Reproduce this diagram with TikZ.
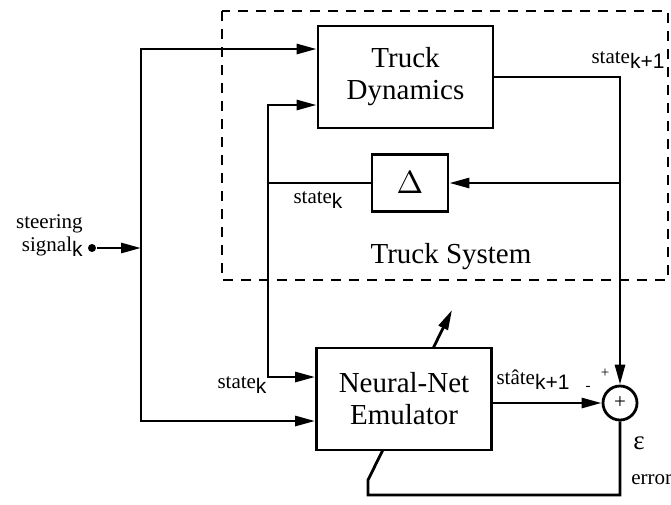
\documentclass[tikz,border=0pt]{standalone}
\usepackage{graphicx}
\usepackage{fontspec}
\setmainfont{Liberation Serif}
\newfontfamily\subfont{Liberation Sans}
\usetikzlibrary{arrows.meta}
\newcommand{\sk}[1]{\raisebox{-5pt}{\subfont #1}}

\begin{document}
\begin{tikzpicture}[x=1pt,y=-1pt,line width=2.8pt,
    block/.style={draw,fill=white,minimum width=175pt,minimum height=102pt,align=center,font=\fontsize{29}{32}\selectfont},
    lbl/.style={font=\fontsize{21}{23}\selectfont,inner sep=0pt},
    big/.style={font=\fontsize{29}{32}\selectfont,inner sep=0pt},
    sgn/.style={font=\fontsize{15}{16}\selectfont,inner sep=0pt},
    >={Triangle[length=20pt,width=10pt]}]
    \useasboundingbox (0,0) rectangle (671,504);
    \draw[line width=1.8pt,dash pattern=on 10pt off 8pt] (222,11) rectangle (668,280);
    \node[block] (td) at (405.5,77) {Truck\\Dynamics};
    \node[draw,fill=white,minimum width=76pt,minimum height=57pt,inner sep=0pt,font=\normalsize] (dl) at (410,183) {\scalebox{3.2}{$\Delta$}};
    \node[draw,circle,minimum size=34pt,inner sep=0pt,lbl] (sum) at (620,403) {+};
    \node[big] (sys) at (451,257) {Truck System};
    \coordinate (split) at (141,248);
    \coordinate (fork) at (268,183);
    \coordinate (tap) at (620,183);
    \coordinate (loop) at (368,495);
    \coordinate (kink) at (368,480);
    \coordinate (tip) at (452,310);
    \node[circle,fill,inner sep=0pt,minimum size=8pt] (steer) at (92,248) {};

    \draw[->] (sum.south) |- (loop) -- (kink) -- (tip);
    \node[block] (nn) at (404,399) {Neural-Net\\Emulator};

    \draw[->] (steer) -- (split);
    \draw[->] (split) |- ([yshift=28pt]td.west);
    \draw[->] (split) |- ([yshift=-22pt]nn.west);
    \draw (dl.west) -- (fork);
    \draw[->] (fork) |- ([yshift=-28pt]td.west);
    \draw[->] (fork) |- ([yshift=22pt]nn.west);
    \draw[->] (td.east) -| (sum.north);
    \draw[->] (tap) -- (dl.east);
    \draw[->] (sum.west -| nn.east) -- (sum.west);

    \node[lbl,align=right,anchor=east] (steerlbl) at (84,236) {steering\\signal\sk{k}};
    \node[lbl] (nextlbl) at (628,60) {state\sk{k+1}};
    \node[lbl] (fblbl) at (318,200) {state\sk{k}};
    \node[lbl] (inlbl) at (242,385) {state\sk{k}};
    \node[lbl] (estlbl) at (533,380) {st\^ate\sk{k+1}};
    \node[sgn] (plus) at (605,373) {+};
    \node[sgn] (minus) at (588,388) {-};
    \node[font=\fontsize{27}{29}\selectfont,inner sep=0pt] (eps) at (639,443) {ε};
    \node[lbl,anchor=west] (errlbl) at (630,480) {error};
\end{tikzpicture}
\end{document}
